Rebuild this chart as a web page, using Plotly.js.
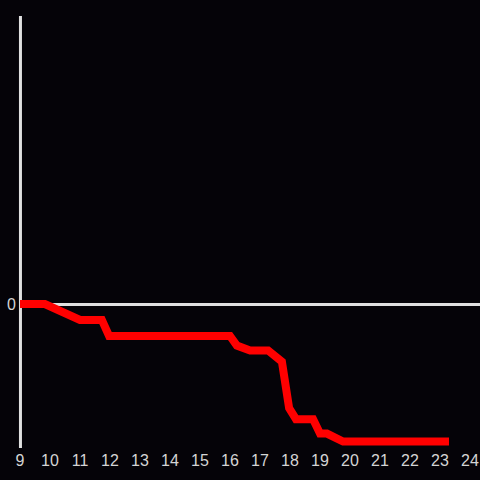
<!DOCTYPE html>
<html>
<head>
<meta charset="utf-8">
<script src="https://cdn.plot.ly/plotly-3.0.1.min.js"></script>
<style>html,body{margin:0;padding:0;background:#050308;}</style>
</head>
<body>
<div id="chart" style="width:480px;height:480px;"></div>
<script>
const xValues = [9, 9.83, 11.0, 11.73, 11.97, 16.0, 16.23, 16.67, 17.27, 17.73, 17.97, 18.2, 18.77, 19.0, 19.23, 19.77, 23.3];
const yValues = [0, 0, -1, -1, -2, -2, -2.6, -2.9, -2.9, -3.6, -6.5, -7.2, -7.2, -8.1, -8.1, -8.6, -8.6];
const xTicks = [9,10,11,12,13,14,15,16,17,18,19,20,21,22,23,24];

Plotly.newPlot('chart', [{
  x: xValues, y: yValues, type: 'scatter', mode: 'lines',
  line: {color: '#ff0000', width: 8},
  hoverinfo: 'none', cliponaxis: false
}], {
  width: 480, height: 480,
  paper_bgcolor: '#050308', plot_bgcolor: '#050308',
  margin: {l: 20, r: 0, t: 16, b: 32},
  showlegend: false,
  font: {family: 'Liberation Sans, Arial, sans-serif', size: 16, color: '#d4d4d4'},
  xaxis: {range: [9, 24.333], tickvals: xTicks, ticktext: xTicks.map(String), showgrid: false,
          zeroline: false, showline: false, ticks: '', ticklabelstandoff: 1,
          tickfont: {size: 16, color: '#d4d4d4'}},
  yaxis: {range: [-9, 18], tickvals: [0], ticktext: ['0'], showgrid: false,
          zeroline: true, zerolinecolor: '#e0e0e0', zerolinewidth: 3,
          showline: false, ticks: '', ticklabelstandoff: 3,
          tickfont: {size: 16, color: '#d4d4d4'}},
  shapes: [{type: 'line', xref: 'paper', yref: 'paper', x0: 0.001, x1: 0.001, y0: 0, y1: 1,
            line: {color: '#e0e0e0', width: 3}, layer: 'below'}]
}, {staticPlot: true});
</script>
</body>
</html>
